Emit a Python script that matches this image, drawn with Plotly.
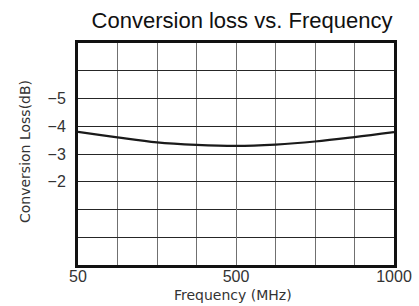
import plotly.graph_objects as go

# grid division index along the frequency axis (8 divisions, 50 MHz .. 1000 MHz)
x_div = [0, 1, 2, 3, 4, 5, 6, 7, 8]
loss_db = [-3.80, -3.60, -3.42, -3.33, -3.29, -3.34, -3.45, -3.61, -3.79]

x_tick_pos = [0, 4, 8]
x_tick_text = ["50", "500", "1000"]
y_tick_vals = [-5, -4, -3, -2]
y_tick_text = ["\u22125", "\u22124", "\u22123", "\u22122"]

W, H = 419, 306

fig = go.Figure()
fig.add_trace(go.Scatter(
    x=x_div, y=loss_db, mode="lines",
    line=dict(color="#1a1a1a", width=2.2, shape="spline"),
    showlegend=False, hoverinfo="skip",
))

tick_font = dict(family="Liberation Sans, Arial, sans-serif", size=16, color="#333333")
axis_title_font = dict(family="DejaVu Sans, sans-serif", size=14, color="#333333")

fig.update_layout(
    width=W, height=H,
    margin=dict(l=78, r=25, t=43, b=41, autoexpand=False),
    paper_bgcolor="white", plot_bgcolor="white",
    title=dict(text="Conversion loss vs. Frequency", x=242 / W, xanchor="center",
               y=1 - 20 / H, yanchor="middle",
               font=dict(family="Liberation Sans, Arial, sans-serif", size=22, color="#111111")),
    annotations=[
        dict(text="Frequency (MHz)", xref="paper", yref="paper",
             x=(233 - 78) / (W - 78 - 25), y=-(295 - 265) / (265 - 43),
             xanchor="center", yanchor="middle", showarrow=False, font=axis_title_font),
        dict(text="Conversion Loss(dB)", xref="paper", yref="paper",
             x=-(78 - 25) / (W - 78 - 25), y=(265 - 152) / (265 - 43),
             xanchor="center", yanchor="middle", textangle=-90, showarrow=False,
             font=axis_title_font),
    ],
)
fig.update_xaxes(
    range=[0, 8], tickvals=x_tick_pos, ticktext=x_tick_text, automargin=False,
    tickfont=tick_font, ticks="", showgrid=True, gridcolor="#707070", gridwidth=1,
    minor=dict(dtick=1, tick0=0, showgrid=True, gridcolor="#707070", gridwidth=1),
    showline=True, linecolor="#111111", linewidth=3, mirror=True, zeroline=False,
    ticklabelstandoff=-5,
)
fig.update_yaxes(
    range=[1, -7], tickvals=y_tick_vals, ticktext=y_tick_text, automargin=False,
    tickfont=tick_font, ticks="", showgrid=True, gridcolor="#262626", gridwidth=1,
    minor=dict(dtick=1, tick0=0, showgrid=True, gridcolor="#262626", gridwidth=1),
    showline=True, linecolor="#111111", linewidth=3, mirror=True, zeroline=False,
    ticklabelstandoff=6,
)

fig.write_html("out.html", config={"displayModeBar": False},
               post_script="document.body.style.margin='0';")
